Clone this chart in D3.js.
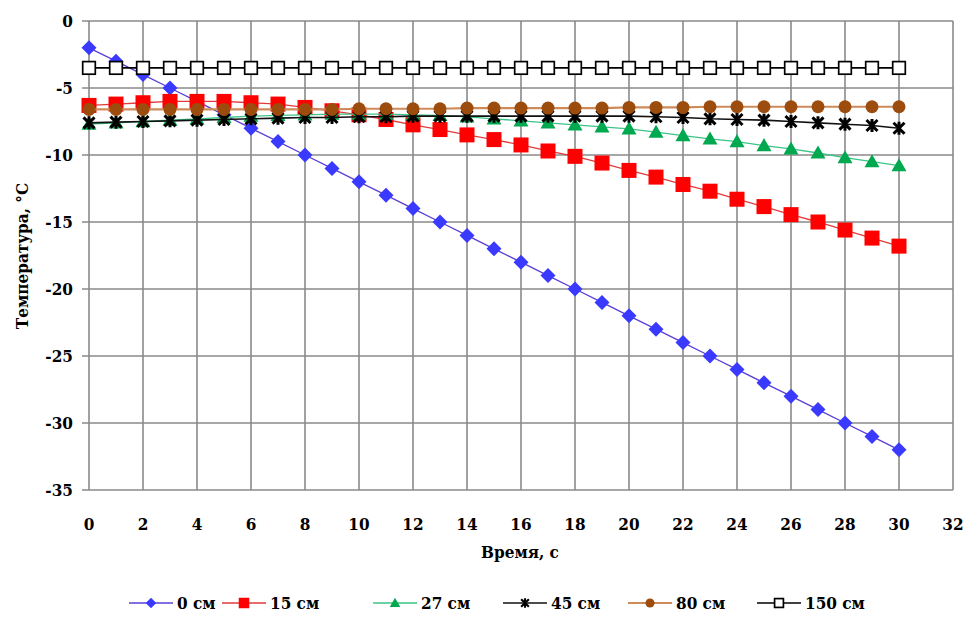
<!DOCTYPE html>
<html>
<head>
<meta charset="utf-8">
<script src="https://cdn.jsdelivr.net/npm/d3@7"></script>
<style>
  body { margin: 0; background: #fff; }
  svg text { font-family: "DejaVu Serif Condensed", "DejaVu Serif", serif; font-stretch: condensed; }
</style>
</head>
<body>
<svg id="chart" width="968" height="617"></svg>
<script>
// time, s
const times = d3.range(0, 31);

// temperature at each depth, °C
const depth0 = [-2,-3,-4,-5,-6,-7,-8,-9,-10,-11,-12,-13,-14,-15,-16,-17,-18,-19,-20,-21,-22,-23,-24,-25,-26,-27,-28,-29,-30,-31,-32];
const depth15 = [-6.3,-6.2,-6.1,-6.0,-6.0,-6.0,-6.1,-6.2,-6.45,-6.7,-7.0,-7.35,-7.75,-8.1,-8.5,-8.85,-9.25,-9.7,-10.1,-10.6,-11.15,-11.65,-12.2,-12.7,-13.3,-13.85,-14.45,-15.0,-15.6,-16.2,-16.8];
const depth27 = [-7.7,-7.6,-7.5,-7.4,-7.3,-7.2,-7.1,-7.05,-7.0,-6.95,-6.95,-6.95,-7.0,-7.05,-7.15,-7.3,-7.45,-7.6,-7.75,-7.9,-8.05,-8.3,-8.55,-8.8,-9.0,-9.3,-9.55,-9.85,-10.2,-10.5,-10.8];
const depth45 = [-7.6,-7.55,-7.5,-7.45,-7.4,-7.35,-7.3,-7.25,-7.2,-7.2,-7.15,-7.15,-7.1,-7.1,-7.1,-7.1,-7.1,-7.1,-7.1,-7.1,-7.1,-7.15,-7.2,-7.3,-7.35,-7.4,-7.5,-7.6,-7.7,-7.8,-8.0];
const depth80 = [-6.6,-6.6,-6.6,-6.6,-6.6,-6.6,-6.6,-6.6,-6.6,-6.6,-6.55,-6.55,-6.55,-6.55,-6.5,-6.5,-6.5,-6.5,-6.5,-6.5,-6.45,-6.45,-6.45,-6.4,-6.4,-6.4,-6.4,-6.4,-6.4,-6.4,-6.4];
const depth150 = [-3.5,-3.5,-3.5,-3.5,-3.5,-3.5,-3.5,-3.5,-3.5,-3.5,-3.5,-3.5,-3.5,-3.5,-3.5,-3.5,-3.5,-3.5,-3.5,-3.5,-3.5,-3.5,-3.5,-3.5,-3.5,-3.5,-3.5,-3.5,-3.5,-3.5,-3.5];

const seriesNames = ["0 см", "15 см", "27 см", "45 см", "80 см", "150 см"];
const seriesValues = [depth0, depth15, depth27, depth45, depth80, depth150];

const xTicks = d3.range(0, 33, 2);
const yTicks = d3.range(-35, 1, 5);

// look of each series: line colour, marker
const styles = [
  {line: "#5b3fd6", lw: 1.3, marker: "diamond", fill: "#3a3aff"},
  {line: "#e23a3a", lw: 1.3, marker: "square", fill: "#ff0000"},
  {line: "#3cc486", lw: 1.3, marker: "triangle", fill: "#00a84f"},
  {line: "#111111", lw: 1.6, marker: "x", fill: "#000"},
  {line: "#cf8a5a", lw: 2.2, marker: "circle", fill: "#9c4c0c"},
  {line: "#000000", lw: 1.6, marker: "open", fill: "#fff"}
];

const svg = d3.select("#chart");

const x = d3.scaleLinear().domain([0, 32]).range([89, 953]);
const y = d3.scaleLinear().domain([-35, 0]).range([490, 21]);

// grid
svg.append("g")
  .selectAll("line")
  .data(xTicks)
  .join("line")
  .attr("x1", d => x(d)).attr("x2", d => x(d))
  .attr("y1", y(0)).attr("y2", y(-35))
  .attr("stroke", "#8a8a8a").attr("stroke-width", 1.6);

svg.append("g")
  .selectAll("line")
  .data(yTicks)
  .join("line")
  .attr("x1", 82).attr("x2", x(32))
  .attr("y1", d => y(d)).attr("y2", d => y(d))
  .attr("stroke", "#8a8a8a").attr("stroke-width", 1.6);

// tick labels
svg.append("g")
  .selectAll("text")
  .data(yTicks)
  .join("text")
  .attr("x", 73)
  .attr("y", d => y(d) + 6)
  .attr("text-anchor", "end")
  .attr("font-weight", "bold")
  .attr("font-size", 17)
  .text(d => d);

svg.append("g")
  .selectAll("text")
  .data(xTicks)
  .join("text")
  .attr("x", d => x(d))
  .attr("y", 530)
  .attr("text-anchor", "middle")
  .attr("font-weight", "bold")
  .attr("font-size", 17)
  .text(d => d);

// axis titles
svg.append("text")
  .attr("x", 520).attr("y", 558)
  .attr("text-anchor", "middle")
  .attr("font-weight", "bold")
  .attr("font-size", 17)
  .text("Время, с");

svg.append("text")
  .attr("transform", "translate(28,256) rotate(-90)")
  .attr("text-anchor", "middle")
  .attr("font-weight", "bold")
  .attr("font-size", 17)
  .text("Температура, °C");

// markers
function drawMarker(g, st, cx, cy, k) {
  k = k || 1;
  if (st.marker === "diamond") {
    const r = 7.5 * k;
    g.append("path").attr("d", `M${cx},${cy - r}L${cx + r},${cy}L${cx},${cy + r}L${cx - r},${cy}Z`)
      .attr("fill", st.fill);
  } else if (st.marker === "square") {
    const r = 7.5 * k;
    g.append("rect").attr("x", cx - r).attr("y", cy - r).attr("width", 2 * r).attr("height", 2 * r)
      .attr("fill", st.fill);
  } else if (st.marker === "triangle") {
    const r = 7.5 * k;
    g.append("path").attr("d", `M${cx},${cy - r}L${cx + r},${cy + r * 0.75}L${cx - r},${cy + r * 0.75}Z`)
      .attr("fill", st.fill);
  } else if (st.marker === "circle") {
    g.append("circle").attr("cx", cx).attr("cy", cy).attr("r", 6.5 * k).attr("fill", st.fill);
  } else if (st.marker === "x") {
    const r = 5.5 * k;
    g.append("path")
      .attr("d", `M${cx - r},${cy - r}L${cx + r},${cy + r}M${cx - r},${cy + r}L${cx + r},${cy - r}M${cx},${cy - r - 1}L${cx},${cy + r + 1}`)
      .attr("stroke", "#000").attr("stroke-width", 3 * k);
  } else if (st.marker === "open") {
    const r = 6.3 * k;
    g.append("rect").attr("x", cx - r).attr("y", cy - r).attr("width", 2 * r).attr("height", 2 * r)
      .attr("fill", "#fff").attr("stroke", "#000").attr("stroke-width", 1.7);
  }
}

const line = d3.line().x((d, i) => x(times[i])).y(d => y(d));

seriesValues.forEach((vals, si) => {
  const st = styles[si];
  const g = svg.append("g");
  g.append("path").datum(vals)
    .attr("d", line)
    .attr("fill", "none")
    .attr("stroke", st.line)
    .attr("stroke-width", st.lw);
  vals.forEach((v, i) => drawMarker(g, st, x(times[i]), y(v)));
});

// legend
const legendX = [129, 222, 373, 503, 628, 757];
const legend = svg.append("g");
seriesNames.forEach((name, si) => {
  const st = styles[si];
  const lx = legendX[si], ly = 603;
  legend.append("line")
    .attr("x1", lx).attr("x2", lx + 44)
    .attr("y1", ly).attr("y2", ly)
    .attr("stroke", st.line).attr("stroke-width", st.lw);
  drawMarker(legend, st, lx + 22, ly, 0.7);
  legend.append("text")
    .attr("x", lx + 48).attr("y", ly + 6)
    .attr("font-weight", "bold")
    .attr("font-size", 17)
    .text(name);
});
</script>
</body>
</html>
